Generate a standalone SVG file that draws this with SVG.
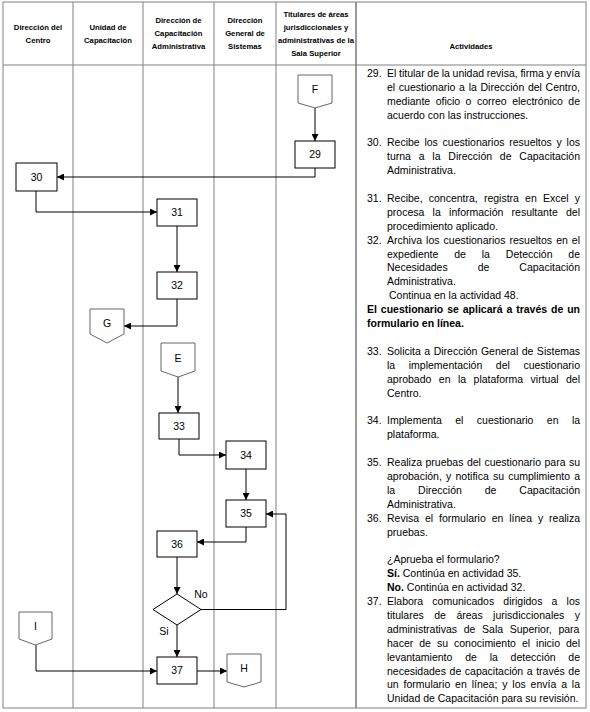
<svg xmlns="http://www.w3.org/2000/svg" width="590" height="712" viewBox="0 0 590 712">
<style>
.grid{stroke:#808080;stroke-width:1;fill:none}
.hd{font-family:"Liberation Sans",Arial,sans-serif;font-size:7.7px;font-weight:bold;fill:#000;text-anchor:middle}
.tx{font-family:"Liberation Sans",Arial,sans-serif;font-size:10.5px;fill:#000}
.b{font-weight:bold}
.box{fill:#fff;stroke:#000;stroke-width:1}
.off{fill:#fff;stroke:#666;stroke-width:1}
.lbl{font-family:"Liberation Sans",Arial,sans-serif;font-size:10.5px;fill:#000;text-anchor:middle}
.cn{fill:none;stroke:#000;stroke-width:1}
</style>
<defs>
<marker id="ah" viewBox="0 0 10 10" refX="10" refY="5" markerWidth="7" markerHeight="7" markerUnits="userSpaceOnUse" orient="auto">
<path d="M0,0 L10,5 L0,10 Z" fill="#000"/>
</marker>
</defs>
<rect x="0" y="0" width="590" height="712" fill="#fff"/>
<g id="table">
<rect class="grid" x="3" y="2" width="583" height="706"/>
<line class="grid" x1="3" y1="65" x2="586" y2="65"/>
<line class="grid" x1="73" y1="2" x2="73" y2="708"/>
<line class="grid" x1="143" y1="2" x2="143" y2="708"/>
<line class="grid" x1="214" y1="2" x2="214" y2="708"/>
<line class="grid" x1="276" y1="2" x2="276" y2="708"/>
<line class="grid" x1="356" y1="2" x2="356" y2="708" style="stroke-width:1.6"/>
</g>
<g id="header">
<text class="hd" x="38" y="30">Dirección del</text>
<text class="hd" x="38" y="43">Centro</text>
<text class="hd" x="108" y="30">Unidad de</text>
<text class="hd" x="108" y="43">Capacitación</text>
<text class="hd" x="178.5" y="23">Dirección de</text>
<text class="hd" x="178.5" y="36">Capacitación</text>
<text class="hd" x="178.5" y="49">Administrativa</text>
<text class="hd" x="245" y="23">Dirección</text>
<text class="hd" x="245" y="36">General de</text>
<text class="hd" x="245" y="49">Sistemas</text>
<text class="hd" x="316" y="17">Titulares de áreas</text>
<text class="hd" x="316" y="30">jurisdiccionales y</text>
<text class="hd" x="316" y="43">administrativas de la</text>
<text class="hd" x="316" y="56">Sala Superior</text>
<text class="hd" x="471" y="49">Actividades</text>
</g>
<g id="activities" class="tx">
<text x="367" y="76.8">29.</text>
<text x="387" y="76.8" word-spacing="-0.24">El titular de la unidad revisa, firma y envía</text>
<text x="387" y="90.7" word-spacing="0.75">el cuestionario a la Dirección del Centro,</text>
<text x="387" y="104.6" word-spacing="2.54">mediante oficio o correo electrónico de</text>
<text x="387" y="118.5">acuerdo con las instrucciones.</text>
<text x="367" y="146.3">30.</text>
<text x="387" y="146.3" word-spacing="1.84">Recibe los cuestionarios resueltos y los</text>
<text x="387" y="160.2" word-spacing="4.87">turna a la Dirección de Capacitación</text>
<text x="387" y="174.1">Administrativa.</text>
<text x="367" y="201.9">31.</text>
<text x="387" y="201.9" word-spacing="3.24">Recibe, concentra, registra en Excel y</text>
<text x="387" y="215.8" word-spacing="5.35">procesa la información resultante del</text>
<text x="387" y="229.7">procedimiento aplicado.</text>
<text x="367" y="243.6">32.</text>
<text x="387" y="243.6" word-spacing="1.14">Archiva los cuestionarios resueltos en el</text>
<text x="387" y="257.5" word-spacing="12.94">expediente de la Detección de</text>
<text x="387" y="271.4" word-spacing="27.05">Necesidades de Capacitación</text>
<text x="387" y="285.3">Administrativa.</text>
<text x="389" y="299.2">Continua en la actividad 48.</text>
<text x="367" y="313.1" class="b" word-spacing="1.0">El cuestionario se aplicará a través de un</text>
<text x="367" y="327" class="b">formulario en línea.</text>
<text x="367" y="354.8">33.</text>
<text x="387" y="354.8" word-spacing="0.56">Solicita a Dirección General de Sistemas</text>
<text x="387" y="368.7" word-spacing="10.64">la implementación del cuestionario</text>
<text x="387" y="382.6" word-spacing="4.52">aprobado en la plataforma virtual del</text>
<text x="387" y="396.5">Centro.</text>
<text x="367" y="424.3">34.</text>
<text x="387" y="424.3" word-spacing="10.47">Implementa el cuestionario en la</text>
<text x="387" y="438.2">plataforma.</text>
<text x="367" y="466">35.</text>
<text x="387" y="466" word-spacing="0.56">Realiza pruebas del cuestionario para su</text>
<text x="387" y="479.9" word-spacing="1.26">aprobación, y notifica su cumplimiento a</text>
<text x="387" y="493.8" word-spacing="20">la Dirección de Capacitación</text>
<text x="387" y="507.7">Administrativa.</text>
<text x="367" y="521.6">36.</text>
<text x="387" y="521.6" word-spacing="2.99">Revisa el formulario en línea y realiza</text>
<text x="387" y="535.5">pruebas.</text>
<text x="387" y="563.3">¿Aprueba el formulario?</text>
<text x="387" y="577.2"><tspan class="b">Sí.</tspan> Continúa en actividad 35.</text>
<text x="387" y="591.1"><tspan class="b">No.</tspan> Continúa en actividad 32.</text>
<text x="367" y="605">37.</text>
<text x="387" y="605" word-spacing="6.23">Elabora comunicados dirigidos a los</text>
<text x="387" y="618.9" word-spacing="7.55">titulares de áreas jurisdiccionales y</text>
<text x="387" y="632.8" word-spacing="3.75">administrativas de Sala Superior, para</text>
<text x="387" y="646.7" word-spacing="3.08">hacer de su conocimiento el inicio del</text>
<text x="387" y="660.6" word-spacing="9.88">levantamiento de la detección de</text>
<text x="387" y="674.5" word-spacing="0.66">necesidades de capacitación a través de</text>
<text x="387" y="688.4" word-spacing="1.95">un formulario en línea; y los envía a la</text>
<text x="387" y="702.3">Unidad de Capacitación para su revisión.</text>
</g>
<g id="connectors">
<path class="cn" d="M315,108 V141" marker-end="url(#ah)"/>
<path class="cn" d="M315,168 V177 H57" marker-end="url(#ah)"/>
<path class="cn" d="M36,191 V212 H157" marker-end="url(#ah)"/>
<path class="cn" d="M177,226 V272" marker-end="url(#ah)"/>
<path class="cn" d="M177,299 V326 H124" marker-end="url(#ah)"/>
<path class="cn" d="M178,377 V413" marker-end="url(#ah)"/>
<path class="cn" d="M179,439 V455 H226" marker-end="url(#ah)"/>
<path class="cn" d="M246,469 V500" marker-end="url(#ah)"/>
<path class="cn" d="M246,527 V542 H197" marker-end="url(#ah)"/>
<path class="cn" d="M177,557 V594" marker-end="url(#ah)"/>
<path class="cn" d="M201,609.5 H286 V514 H266" marker-end="url(#ah)"/>
<path class="cn" d="M177,625 V657" marker-end="url(#ah)"/>
<path class="cn" d="M36,645 V671 H157" marker-end="url(#ah)"/>
<path class="cn" d="M197,671 H227" marker-end="url(#ah)"/>
<text class="lbl" x="201" y="598">No</text>
<text class="lbl" x="164" y="635">Si</text>
</g>
<g id="nF"><path class="off" d="M298,75 H332 V103 L315,108 L298,103 Z"/><text class="lbl" x="315" y="93">F</text></g>
<g id="n29"><rect class="box" x="295" y="141" width="40" height="27"/><text class="lbl" x="315" y="158.3">29</text></g>
<g id="n30"><rect class="box" x="16" y="163" width="41" height="28"/><text class="lbl" x="36.5" y="180.8">30</text></g>
<g id="n31"><rect class="box" x="157" y="199" width="40" height="27"/><text class="lbl" x="177" y="216.3">31</text></g>
<g id="n32"><rect class="box" x="157" y="272" width="40" height="27"/><text class="lbl" x="177" y="289.3">32</text></g>
<g id="nG"><path class="off" d="M90,309 H124 V334 L107,343 L90,334 Z"/><text class="lbl" x="107" y="326.5">G</text></g>
<g id="nE"><path class="off" d="M161,343 H195 V371 L178,377 L161,371 Z"/><text class="lbl" x="178" y="361.5">E</text></g>
<g id="n33"><rect class="box" x="159" y="413" width="40" height="26"/><text class="lbl" x="179" y="429.8">33</text></g>
<g id="n34"><rect class="box" x="226" y="441" width="40" height="28"/><text class="lbl" x="246" y="458.8">34</text></g>
<g id="n35"><rect class="box" x="226" y="500" width="40" height="27"/><text class="lbl" x="246" y="517.3">35</text></g>
<g id="n36"><rect class="box" x="157" y="531" width="40" height="26"/><text class="lbl" x="177" y="547.8">36</text></g>
<g id="nDec"><path class="box" d="M177,594 L201,609.5 L177,625 L153,609.5 Z"/></g>
<g id="nI"><path class="off" d="M19,612 H52 V639 L35.5,645 L19,639 Z"/><text class="lbl" x="35.5" y="630">I</text></g>
<g id="n37"><rect class="box" x="157" y="657" width="40" height="27"/><text class="lbl" x="177" y="674.3">37</text></g>
<g id="nH"><path class="off" d="M227,654 H261 V682 L244,687 L227,682 Z"/><text class="lbl" x="244" y="671.5">H</text></g>
</svg>
